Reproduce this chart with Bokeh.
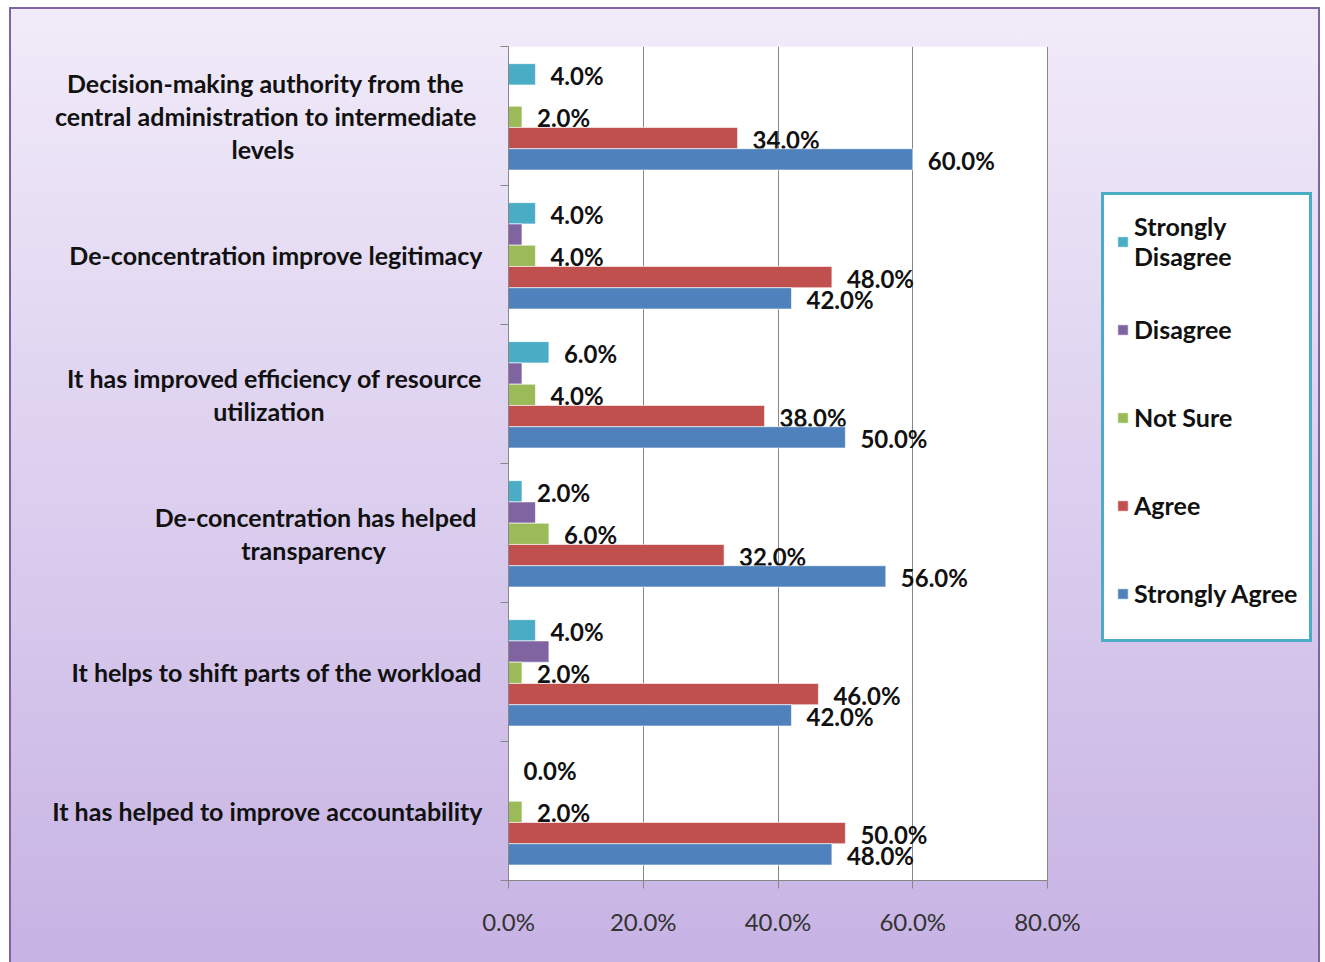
from bokeh.plotting import figure
from bokeh.models import (Range1d, FixedTicker, PrintfTickFormatter, Legend, LegendItem,
                          ColumnDataSource, BoxAnnotation)
from bokeh.core.properties import value
from bokeh.embed import file_html
from bokeh.resources import INLINE

NB = "\u00a0"
categories = [
    "Decision-making authority from the" + NB * 3 + "\ncentral administration  to intermediate\nlevels" + NB * 31,
    "De-concentration improve legitimacy",
    "It has improved efficiency of resource\nutilization" + NB * 26,
    "De-concentration has helped" + NB + "\ntransparency" + NB * 16,
    "It helps to shift parts of the workload",
    "It has helped to improve accountability",
]
series = ["Strongly Disagree", "Disagree", "Not Sure", "Agree", "Strongly Agree"]
legend_labels = ["Strongly\nDisagree", "Disagree", "Not Sure", "Agree", "Strongly Agree"]
strongly_disagree = [4.0, 4.0, 6.0, 2.0, 4.0, 0.0]
disagree = [0.0, 2.0, 2.0, 4.0, 6.0, 0.0]
not_sure = [2.0, 4.0, 4.0, 6.0, 2.0, 2.0]
agree = [34.0, 48.0, 38.0, 32.0, 46.0, 50.0]
strongly_agree = [60.0, 42.0, 50.0, 56.0, 42.0, 48.0]
x_ticks = [0, 20, 40, 60, 80]
x_max = 80

values = [strongly_disagree, disagree, not_sure, agree, strongly_agree]
colors = ["#4BACC6", "#8064A2", "#9BBB59", "#C0504D", "#4F81BD"]
show_labels = [True, False, True, True, True]

FONT = "Lato"
n = len(categories)

# frame spans to the right edge so the legend can sit inside it;
# the value axis 0..80 occupies the left 539 px of the 810 px frame
frame_w, axis_w = 810, 539
p = figure(width=1307, height=953, output_backend="svg", toolbar_location=None,
           x_range=Range1d(0, x_max * frame_w / axis_w), y_range=Range1d(0, n),
           min_border_left=497, min_border_right=0, min_border_top=37, min_border_bottom=82)
p.margin = (9, 0, 0, 11)
p.styles = {"background": "linear-gradient(#f1ebf9, #c7b3e4)",
            "box-shadow": "0 0 0 2px #8064A2"}
p.border_fill_color = None
p.background_fill_color = None
p.outline_line_color = None

# white plot area between 0 and 80
p.add_layout(BoxAnnotation(left=0, right=x_max, fill_color="white", fill_alpha=1,
                           line_color=None, level="image"))

# axes
p.xaxis.bounds = (0, x_max)
p.xaxis.ticker = FixedTicker(ticks=x_ticks)
p.xaxis.formatter = PrintfTickFormatter(format="%.1f%%")
p.xaxis.axis_line_color = "#878787"
p.xaxis.major_tick_line_color = "#878787"
p.xaxis.major_tick_out = 8
p.xaxis.major_tick_in = 0
p.xaxis.minor_tick_line_color = None
p.xaxis.major_label_standoff = 18
p.xaxis.major_label_text_font = FONT
p.xaxis.major_label_text_font_size = "24px"
p.xaxis.major_label_text_color = "#333333"

centers = [n - i - 0.5 for i in range(n)]
p.yaxis.ticker = FixedTicker(ticks=centers, minor_ticks=list(range(n + 1)))
p.yaxis.major_label_overrides = {c: categories[i] for i, c in enumerate(centers)}
p.yaxis.axis_line_color = "#878787"
p.yaxis.major_tick_line_color = None
p.yaxis.major_tick_out = 0
p.yaxis.major_tick_in = 0
p.yaxis.minor_tick_line_color = "#878787"
p.yaxis.minor_tick_out = 8
p.yaxis.minor_tick_in = 0
p.yaxis.major_label_standoff = 18
p.yaxis.major_label_text_font = FONT
p.yaxis.major_label_text_font_style = "bold"
p.yaxis.major_label_text_font_size = "25px"
p.yaxis.major_label_text_line_height = 1.1
p.yaxis.major_label_text_color = "#111111"

p.xgrid.ticker = FixedTicker(ticks=x_ticks)
p.xgrid.grid_line_color = "#878787"
p.ygrid.grid_line_color = None

bar_h = 0.153
first_off = 0.20
items = []
for j, (vals, col) in enumerate(zip(values, colors)):
    ys = [n - i - first_off - j * bar_h for i in range(n)]
    src = ColumnDataSource(dict(y=ys, right=vals,
                                lab=[f"{v:.1f}%" for v in vals]))
    r = p.hbar(y="y", left=0, right="right", height=bar_h, source=src,
               fill_color=col, line_color="white", line_alpha=0.6, line_width=1)
    items.append(LegendItem(label=legend_labels[j], renderers=[r]))
    if show_labels[j]:
        p.text(x="right", y="y", text="lab", source=src, x_offset=15, y_offset=1,
               text_baseline="middle", text_align="left",
               text_font=value(FONT), text_font_style="bold",
               text_font_size="24px", text_color="#111111")

legend = Legend(items=items, location=(593, 238))
legend.border_line_color = "#4BACC6"
legend.border_line_width = 3.5
legend.border_line_alpha = 1
legend.background_fill_color = "white"
legend.background_fill_alpha = 1
legend.padding = 12
legend.spacing = 20
legend.label_height = 68
legend.glyph_height = 13
legend.glyph_width = 13
legend.label_standoff = 5
legend.label_text_font = FONT
legend.label_text_font_style = "bold"
legend.label_text_font_size = "25px"
legend.label_text_color = "#111111"
p.add_layout(legend, "center")

open("out.html", "w").write(file_html(p, INLINE))
